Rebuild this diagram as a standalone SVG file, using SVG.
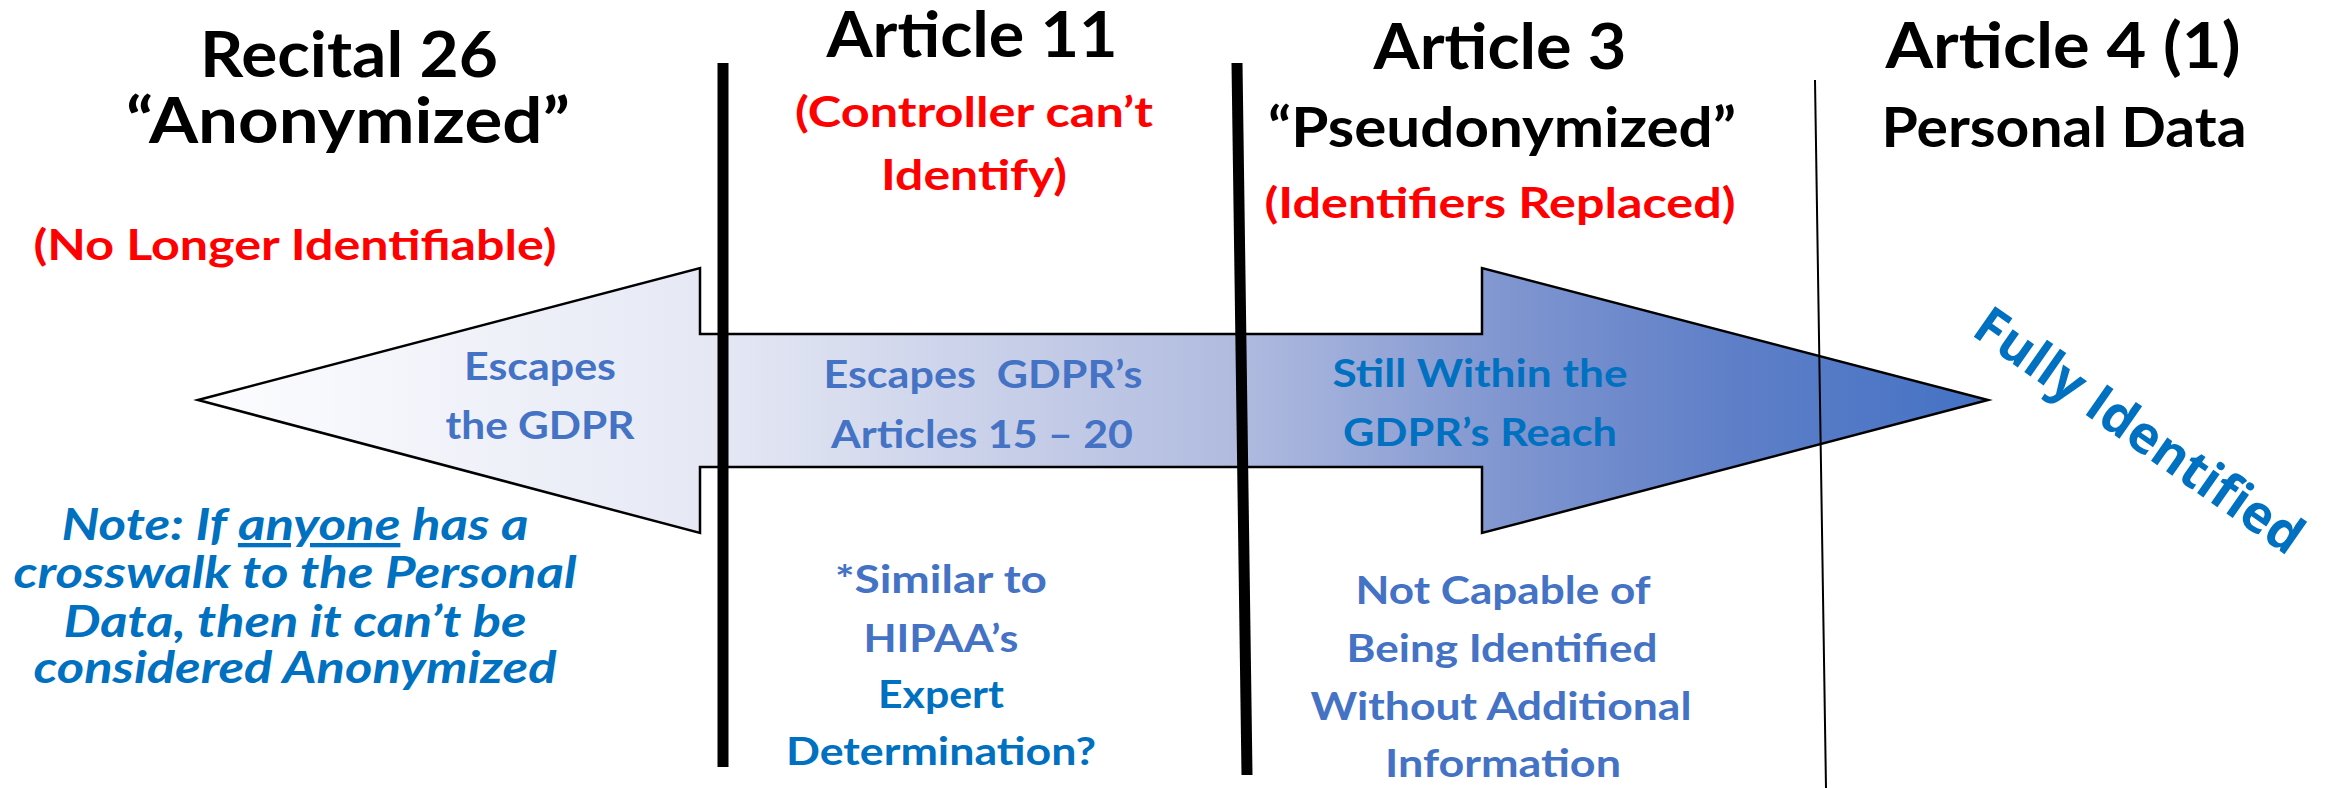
<svg xmlns="http://www.w3.org/2000/svg" width="2331" height="788" viewBox="0 0 2331 788">
  <style>
    .hd { font-family: Lato, "Liberation Sans", sans-serif; font-weight: 700; fill: #000000; text-anchor: middle; }
    .big { font-size: 64px; }
    .mid { font-size: 55px; }
    .red { font-family: Lato, "Liberation Sans", sans-serif; font-weight: 700; font-size: 42px; fill: #ff0000; text-anchor: middle; }
    .lbl { font-family: Lato, "Liberation Sans", sans-serif; font-weight: 700; font-size: 39px; text-anchor: middle; }
    .b1 { fill: #4472c4; }
    .b2 { fill: #0070c0; }
    .note { font-family: Lato, "Liberation Sans", sans-serif; font-weight: 700; font-style: italic; font-size: 43px; fill: #0070c0; text-anchor: middle; }
    .full { font-family: "Open Sans", "Liberation Sans", sans-serif; font-weight: 700; font-size: 52px; fill: #0070c0; }
    .divider { stroke: #000000; stroke-linecap: butt; fill: none; }
  </style>
  <defs>
    <linearGradient id="shade" gradientUnits="userSpaceOnUse" x1="198" y1="0" x2="1988" y2="0">
      <stop offset="0" stop-color="#fdfdff"/>
      <stop offset="0.29" stop-color="#e5e8f4"/>
      <stop offset="0.58" stop-color="#b0bbdf"/>
      <stop offset="0.73" stop-color="#8096d0"/>
      <stop offset="0.85" stop-color="#6080c8"/>
      <stop offset="1" stop-color="#4472c4"/>
    </linearGradient>
  </defs>

  <rect width="2331" height="788" fill="#ffffff"/>

  <!-- double-headed scale arrow -->
  <g id="scale-arrow">
    <polygon points="198,400 700,268 700,334 1482,334 1482,268 1988,400 1482,533 1482,467 700,467 700,533" fill="url(#shade)" stroke="#000000" stroke-width="2.5" stroke-linejoin="miter"/>
  </g>

  <!-- column dividers -->
  <g id="connectors">
    <line class="divider" x1="723" y1="63" x2="723" y2="767" stroke-width="11"/>
    <line class="divider" x1="1237" y1="63" x2="1247" y2="775" stroke-width="11"/>
    <line class="divider" x1="1815" y1="80" x2="1826" y2="788" stroke-width="2"/>
  </g>

  <!-- column 1: Recital 26 -->
  <g id="recital-26">
    <text class="hd big" x="349" y="77" textLength="298" lengthAdjust="spacingAndGlyphs">Recital 26</text>
    <text class="hd big" x="348" y="143" textLength="444" lengthAdjust="spacingAndGlyphs">“Anonymized”</text>
    <text class="red" x="295" y="260" textLength="523" lengthAdjust="spacingAndGlyphs">(No Longer Identifiable)</text>
  </g>

  <!-- column 2: Article 11 -->
  <g id="article-11">
    <text class="hd big" x="972" y="57" textLength="291" lengthAdjust="spacingAndGlyphs">Article 11</text>
    <text class="red" x="974" y="127" textLength="358" lengthAdjust="spacingAndGlyphs">(Controller can’t</text>
    <text class="red" x="974" y="190" textLength="186" lengthAdjust="spacingAndGlyphs">Identify)</text>
  </g>

  <!-- column 3: Article 3 -->
  <g id="article-3">
    <text class="hd big" x="1500" y="69" textLength="253" lengthAdjust="spacingAndGlyphs">Article 3</text>
    <text class="hd mid" x="1502" y="147" textLength="468" lengthAdjust="spacingAndGlyphs">“Pseudonymized”</text>
    <text class="red" x="1500" y="218" textLength="471" lengthAdjust="spacingAndGlyphs">(Identifiers Replaced)</text>
  </g>

  <!-- column 4: Article 4 (1) -->
  <g id="article-4">
    <text class="hd big" x="2063" y="68" textLength="355" lengthAdjust="spacingAndGlyphs">Article 4 (1)</text>
    <text class="hd mid" x="2064" y="147" textLength="365" lengthAdjust="spacingAndGlyphs">Personal Data</text>
  </g>

  <!-- labels inside the arrow -->
  <g id="escapes-gdpr">
    <text class="lbl b1" x="540" y="380" textLength="152" lengthAdjust="spacingAndGlyphs">Escapes</text>
    <text class="lbl b1" x="540" y="439" textLength="189" lengthAdjust="spacingAndGlyphs">the GDPR</text>
  </g>
  <g id="escapes-articles">
    <text class="lbl b1" x="983" y="388" textLength="319" lengthAdjust="spacingAndGlyphs" xml:space="preserve">Escapes  GDPR’s</text>
    <text class="lbl b1" x="982" y="448" textLength="302" lengthAdjust="spacingAndGlyphs">Articles 15 – 20</text>
  </g>
  <g id="within-reach">
    <text class="lbl b2" x="1480" y="387" textLength="295" lengthAdjust="spacingAndGlyphs">Still Within the</text>
    <text class="lbl b2" x="1480" y="446" textLength="274" lengthAdjust="spacingAndGlyphs">GDPR’s Reach</text>
  </g>

  <!-- end label -->
  <g id="fully-identified">
    <text class="full" transform="translate(1970,334) rotate(35)" x="0" y="0" textLength="388" lengthAdjust="spacingAndGlyphs">Fully Identified</text>
  </g>

  <!-- notes below the arrow -->
  <g id="anonymized-note">
    <text class="note" x="295" y="540" textLength="467" lengthAdjust="spacingAndGlyphs">Note: If <tspan text-decoration="underline">anyone</tspan> has a</text>
    <text class="note" x="295" y="588" textLength="563" lengthAdjust="spacingAndGlyphs">crosswalk to the Personal</text>
    <text class="note" x="295" y="637" textLength="463" lengthAdjust="spacingAndGlyphs">Data, then it can’t be</text>
    <text class="note" x="295" y="683" textLength="523" lengthAdjust="spacingAndGlyphs">considered Anonymized</text>
  </g>

  <g id="hipaa-note">
    <text class="lbl b1" x="941" y="593" textLength="212" lengthAdjust="spacingAndGlyphs">*Similar to</text>
    <text class="lbl b1" x="941" y="652" textLength="155" lengthAdjust="spacingAndGlyphs">HIPAA’s</text>
    <text class="lbl b2" x="941" y="708" textLength="126" lengthAdjust="spacingAndGlyphs">Expert</text>
    <text class="lbl b2" x="941" y="765" textLength="310" lengthAdjust="spacingAndGlyphs">Determination?</text>
  </g>

  <g id="pseudonymized-note">
    <text class="lbl b1" x="1503" y="604" textLength="295" lengthAdjust="spacingAndGlyphs">Not Capable of</text>
    <text class="lbl b1" x="1502" y="662" textLength="311" lengthAdjust="spacingAndGlyphs">Being Identified</text>
    <text class="lbl b1" x="1501" y="720" textLength="381" lengthAdjust="spacingAndGlyphs">Without Additional</text>
    <text class="lbl b1" x="1503" y="777" textLength="236" lengthAdjust="spacingAndGlyphs">Information</text>
  </g>
</svg>
